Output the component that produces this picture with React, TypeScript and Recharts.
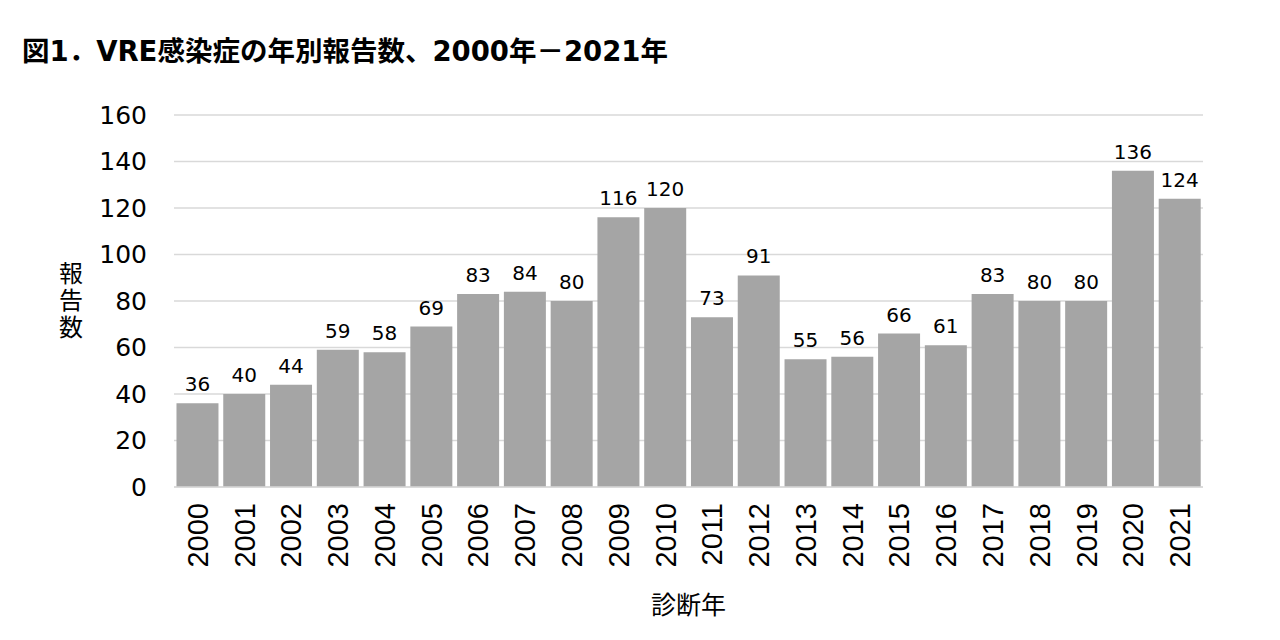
import React from "react";
import { BarChart, Bar, XAxis, YAxis, CartesianGrid, LabelList, Label } from "recharts";

const years = ["2000","2001","2002","2003","2004","2005","2006","2007","2008","2009","2010","2011","2012","2013","2014","2015","2016","2017","2018","2019","2020","2021"];
const counts = [36,40,44,59,58,69,83,84,80,116,120,73,91,55,56,66,61,83,80,80,136,124];
const yTicks = [0,20,40,60,80,100,120,140,160];

const title = "図1．VRE感染症の年別報告数、2000年－2021年";
const yLabel = "報告数";
const xLabel = "診断年";

const data = years.map((y, i) => ({ year: y, count: counts[i] }));

const LATIN = "'DejaVu Sans', 'Noto Sans CJK JP', sans-serif";
const CJK = "'Noto Sans CJK JP', 'DejaVu Sans', sans-serif";

const XTick = (props: any) => {
  const { x, y, payload } = props;
  const ty = y + 8;
  return (
    <text
      x={x}
      y={ty}
      transform={`rotate(-90, ${x}, ${ty})`}
      textAnchor="end"
      dy="0.36em"
      fontSize={29}
      fontFamily="'Liberation Sans', Arial, sans-serif"
      fill="#000"
    >
      {payload.value}
    </text>
  );
};

const YLabelContent = (props: any) => {
  const vb = props.viewBox;
  const cx = 63;
  const cy = vb.y + vb.height / 2;
  return (
    <text
      x={cx}
      y={cy}
      textAnchor="middle"
      fontSize={24}
      fontFamily={CJK}
      fill="#000"
      style={{ writingMode: "vertical-rl", letterSpacing: "3px" }}
    >
      {yLabel}
    </text>
  );
};

const XLabelContent = (props: any) => {
  const vb = props.viewBox;
  return (
    <text
      x={vb.x + vb.width / 2}
      y={vb.y + 116}
      textAnchor="middle"
      dominantBaseline="central"
      fontSize={25}
      fontFamily={CJK}
      fill="#000"
    >
      {xLabel}
    </text>
  );
};

export default function App() {
  return (
    <div style={{ position: "relative", width: 1264, height: 632, background: "#fff" }}>
      <div
        style={{
          position: "absolute",
          left: 14,
          top: 26,
          fontSize: 27.5,
          fontWeight: "bold",
          fontFamily: LATIN,
          color: "#000",
          whiteSpace: "nowrap",
          lineHeight: "34px",
        }}
      >
        {title}
      </div>
      <BarChart
        width={1264}
        height={632}
        data={data}
        margin={{ top: 107, right: 69, bottom: 0, left: 0 }}
        barCategoryGap="5.3%"
      >
        <CartesianGrid vertical={false} stroke="#D9D9D9" strokeWidth={1.3} />
        <XAxis
          dataKey="year"
          height={153}
          tickLine={false}
          axisLine={{ stroke: "#D9D9D9", strokeWidth: 1.3 }}
          tick={<XTick />}
          interval={0}
        >
          <Label content={<XLabelContent />} />
        </XAxis>
        <YAxis
          width={166}
          domain={[0, 160]}
          ticks={yTicks}
          tickLine={false}
          axisLine={false}
          tickSize={0}
          tickMargin={27}
          tick={{ fontSize: 25, fontFamily: LATIN, fill: "#000" }}
        >
          <Label content={<YLabelContent />} />
        </YAxis>
        <Bar dataKey="count" fill="#A5A5A5" isAnimationActive={false}>
          <LabelList
            dataKey="count"
            position="top"
            offset={12}
            style={{ fontSize: 20, fontFamily: LATIN, fill: "#000" }}
          />
        </Bar>
      </BarChart>
    </div>
  );
}
